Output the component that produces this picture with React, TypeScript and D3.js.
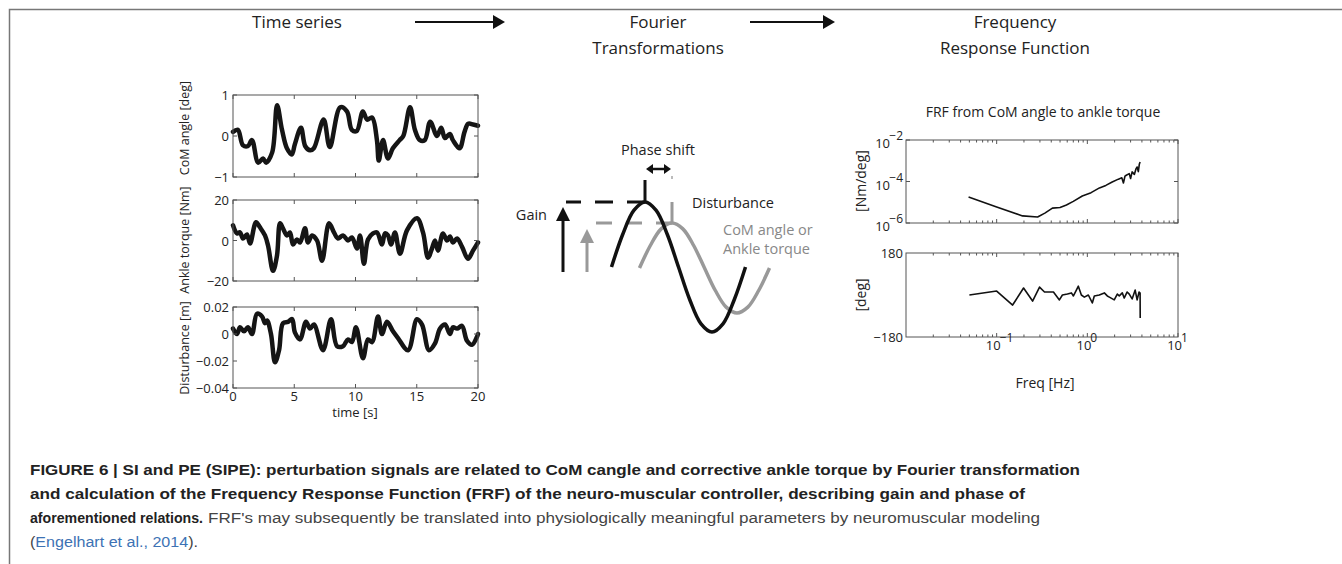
import React from 'react';
import * as d3 from 'd3';

// time series
const comTime = [0, 0.4, 0.8, 1.2, 1.55, 2.05, 2.45, 2.7, 3.2, 3.6, 4.0, 4.4, 4.8, 5.05, 5.55, 5.9, 6.3, 6.6, 7.4, 7.9, 8.75, 9.3, 9.7, 10.1, 10.6, 10.95, 11.35, 11.75, 11.9, 12.25, 12.65, 13.05, 13.6, 13.9, 14.45, 14.85, 15.25, 15.65, 16.1, 16.65, 17.0, 17.3, 17.7, 17.95, 18.5, 18.9, 19.2, 19.6, 20];
const comAngle = [0.1, 0.15, -0.22, -0.25, -0.1, -0.65, -0.55, -0.65, -0.4, 0.75, 0.15, -0.3, -0.45, -0.2, 0.2, -0.25, -0.35, -0.3, 0.4, -0.27, 0.7, 0.6, 0.15, 0.12, 0.6, 0.4, 0.45, -0.1, -0.6, -0.1, -0.55, -0.3, -0.1, 0.0, 0.7, 0.15, -0.1, -0.1, 0.35, 0.0, 0.2, -0.05, 0.05, -0.1, -0.3, 0.1, 0.3, 0.28, 0.25];

const torqueTime = [0, 0.33, 0.57, 0.82, 1.14, 1.39, 1.88, 2.2, 2.61, 2.86, 3.27, 3.59, 3.84, 4.08, 4.41, 4.65, 4.9, 5.22, 5.47, 5.88, 6.12, 6.45, 6.86, 7.27, 7.84, 8.24, 8.57, 8.98, 9.39, 9.71, 10.12, 10.37, 10.69, 11.02, 11.43, 11.76, 12.16, 12.41, 12.65, 12.9, 13.22, 13.63, 14.2, 15.02, 15.51, 15.92, 16.24, 16.49, 16.73, 17.14, 17.47, 17.71, 17.96, 18.29, 18.69, 19.18, 19.59, 20];
const ankleTorque = [7.5, 3.5, 4, 1, 3, -1.5, 9, 6.5, 2.5, -2.5, -15, -7.5, 8.5, 6, 2.5, 4, -2, 0.5, -1, 6, -1, 2.5, 0, -10, 8.5, 4, 1, 2.5, 0, 1.5, -4, 2.5, -11.5, 0.5, 3.5, 4, -2, 3.5, 2.5, -2, 4, -6.5, 5, 11, 4, -8.5, -4, 0, -5, 3.5, 0, 2, -1, 1, -3, -9, -5, -1];

const distTime = [0, 0.33, 0.57, 0.9, 1.22, 1.55, 1.96, 2.37, 2.61, 2.78, 3.1, 3.43, 3.76, 4.08, 4.49, 4.82, 5.06, 5.47, 5.96, 6.29, 6.61, 7.35, 8.0, 8.49, 8.98, 9.39, 9.71, 10.04, 10.61, 11.02, 11.35, 11.84, 12.16, 12.57, 13.06, 13.47, 14.29, 15.02, 15.43, 16.0, 16.49, 16.9, 17.31, 17.71, 17.96, 18.29, 18.69, 19.1, 19.51, 19.92, 20];
const disturbance = [0.004, 0, 0.005, 0.002, 0.005, 0, 0.015, 0.013, 0.008, 0.01, 0, -0.021, -0.012, 0.008, 0.009, 0.011, 0.001, -0.004, 0.009, 0.004, 0.007, -0.012, 0.011, -0.009, -0.009, -0.004, -0.006, 0.005, -0.018, -0.004, -0.006, 0.013, 0, 0.009, 0.002, -0.003, -0.012, 0.011, 0.007, -0.012, -0.007, 0.004, 0.007, 0, 0.005, 0.004, 0.006, -0.005, -0.008, -0.002, 0];

const timeTicks = [0, 5, 10, 15, 20];

// schematic sine waves, one period sampled every 30 deg
const wavePhase = [-90, -60, -30, 0, 30, 60, 90, 120, 150, 180, 210, 240, 270];
const waveValue = [0, 0.5, 0.87, 1, 0.87, 0.5, 0, -0.5, -0.87, -1, -0.87, -0.5, 0];

// FRF gain and phase
const gainFreq = [0.049, 0.1, 0.193, 0.283, 0.34, 0.412, 0.5, 0.588, 0.7, 0.88, 1.1, 1.36, 1.6, 1.88, 2.2, 2.4, 2.5, 2.6, 2.69, 2.9, 3.0, 3.12, 3.3, 3.45, 3.54, 3.65, 3.75, 3.82];
const gainValue = [1.8e-5, 5.9e-6, 2.2e-6, 1.95e-6, 3.0e-6, 5.2e-6, 5.6e-6, 7.4e-6, 1.1e-5, 2.0e-5, 2.9e-5, 4.9e-5, 6.5e-5, 9.5e-5, 1.3e-4, 1.5e-4, 8.5e-5, 1.8e-4, 2.0e-4, 2.4e-4, 1.4e-4, 2.9e-4, 2.2e-4, 4.2e-4, 5.0e-4, 3.0e-4, 7.0e-4, 8.7e-4];
const phaseFreq = [0.05, 0.1, 0.15, 0.198, 0.249, 0.297, 0.337, 0.423, 0.492, 0.531, 0.603, 0.667, 0.702, 0.757, 0.796, 0.859, 0.927, 1.026, 1.135, 1.194, 1.355, 1.54, 1.66, 1.75, 1.98, 2.14, 2.25, 2.43, 2.55, 2.75, 2.9, 3.12, 3.37, 3.54, 3.72, 3.82, 3.83];
const phaseValue = [0, 17, -43, 30, -26, 34, 13, 13, -21, 0, 4, 9, -4, 21, 38, 0, -9, 0, -34, -4, 0, 9, -4, -9, -21, 4, -4, 9, -13, 13, 4, -17, 21, -21, 13, 8, -99];

const gainTicks = [1e-6, 1e-4, 1e-2];
const gainTickLabels = ['\u22126', '\u22124', '\u22122'];
const phaseTicks = [-180, 180];
const freqTicks = [0.1, 1, 10];
const freqTickLabels = ['\u22121', '0', '1'];

const FIG = "'Open Sans', 'Noto Sans', sans-serif";
const CAP = "'Liberation Sans Narrow', 'Arial Narrow', 'Liberation Sans', sans-serif";
const minus = (s: string) => s.replace('-', '\u2212');

type PanelProps = {
  label: string,
  labelY: number,
  time: number[],
  values: number[],
  domain: number[],
  ticks: number[],
  top: number,
  bottom: number,
  showX?: boolean,
}

const xTime = d3.scaleLinear().domain([0, 20]).range([233, 478]);

const TimePanel: React.FC<PanelProps> = ({label, labelY, time, values, domain, ticks, top, bottom, showX}) => {
  const y = d3.scaleLinear().domain(domain).range([bottom, top]);
  const pts = time.map((t, i) => [t, values[i]] as [number, number]);
  const line = d3.line<[number, number]>().x(d => xTime(d[0])).y(d => y(d[1])).curve(d3.curveCatmullRom.alpha(0.5));
  const [x0, x1] = xTime.range();
  return (
    <g>
      <path d={line(pts) || ''} fill="none" stroke="#151515" strokeWidth={4.5} strokeLinejoin="round" strokeLinecap="round"/>
      <rect x={x0} y={top} width={x1 - x0} height={bottom - top} fill="none" stroke="#555" strokeWidth={1}/>
      {ticks.map(v => (
        <g key={v}>
          <line x1={x0} x2={x0 + 4} y1={y(v)} y2={y(v)} stroke="#555"/>
          <line x1={x1} x2={x1 - 4} y1={y(v)} y2={y(v)} stroke="#555"/>
          <text x={x0 - 4} y={y(v) + 5} textAnchor="end" fontSize={13} fill="#222">{minus(String(v))}</text>
        </g>
      ))}
      {timeTicks.map(t => (
        <g key={t}>
          <line x1={xTime(t)} x2={xTime(t)} y1={bottom} y2={bottom - 4} stroke="#555"/>
          <line x1={xTime(t)} x2={xTime(t)} y1={top} y2={top + 4} stroke="#555"/>
          {showX && <text x={xTime(t)} y={bottom + 13} textAnchor="middle" fontSize={13} fill="#222">{t}</text>}
        </g>
      ))}
      <text transform={`translate(189, ${labelY}) rotate(-90)`} textAnchor="middle" fontSize={12.5} fill="#222">{label}</text>
    </g>
  );
}

const HeadArrow: React.FC<{x1: number, x2: number, y: number}> = ({x1, x2, y}) => (
  <g>
    <line x1={x1} x2={x2 - 10} y1={y} y2={y} stroke="#111" strokeWidth={2}/>
    <polygon points={`${x2},${y} ${x2 - 12},${y - 7} ${x2 - 12},${y + 7}`} fill="#111"/>
  </g>
);

const App: React.FC = () => {
  // schematic waves
  const blackX = d3.scaleLinear().domain([0, 360]).range([645, 779]);
  const blackY = d3.scaleLinear().domain([-1, 1]).range([332, 202]);
  const grayX = d3.scaleLinear().domain([0, 360]).range([672, 802]);
  const grayY = d3.scaleLinear().domain([-1, 1]).range([313, 223]);
  const wave = wavePhase.map((p, i) => [p, waveValue[i]] as [number, number]);
  const blackLine = d3.line<[number, number]>().x(d => blackX(d[0])).y(d => blackY(d[1])).curve(d3.curveCatmullRom);
  const grayLine = d3.line<[number, number]>().x(d => grayX(d[0])).y(d => grayY(d[1])).curve(d3.curveCatmullRom);
  const peakBlack = {x: blackX(0), y: blackY(1)};
  const peakGray = {x: grayX(0), y: grayY(1)};

  // FRF axes
  const xF = d3.scaleLog().domain([0.01, 10]).range([906, 1178]);
  const yG = d3.scaleLog().domain([1e-6, 1e-2]).range([223, 140]);
  const yP = d3.scaleLinear().domain([-180, 180]).range([337, 253]);
  const gainLine = d3.line<number>().x((_, i) => xF(gainFreq[i])).y(d => yG(d));
  const phaseLine = d3.line<number>().x((_, i) => xF(phaseFreq[i])).y(d => yP(d));
  const minorTicks = xF.ticks().filter(v => !freqTicks.includes(v) && v > 0.01);
  const [fx0, fx1] = xF.range();

  const frfBox = (top: number, bottom: number) => (
    <g>
      <rect x={fx0} y={top} width={fx1 - fx0} height={bottom - top} fill="none" stroke="#555"/>
      {minorTicks.map(v => (
        <g key={v}>
          <line x1={xF(v)} x2={xF(v)} y1={top} y2={top + 2.5} stroke="#555"/>
          <line x1={xF(v)} x2={xF(v)} y1={bottom} y2={bottom - 2.5} stroke="#555"/>
        </g>
      ))}
      {freqTicks.map(v => (
        <g key={v}>
          <line x1={xF(v)} x2={xF(v)} y1={top} y2={top + 4} stroke="#555"/>
          <line x1={xF(v)} x2={xF(v)} y1={bottom} y2={bottom - 4} stroke="#555"/>
        </g>
      ))}
    </g>
  );

  return (
    <svg width={1342} height={564} style={{position: 'absolute', left: 0, top: 0, background: '#fff'}} fontFamily={FIG}>
      <rect x={9.5} y={9.5} width={1340} height={560} fill="none" stroke="#777" strokeWidth={1.5}/>

      {/* headers */}
      <text x={297} y={28} textAnchor="middle" fontSize={17} fill="#222">Time series</text>
      <HeadArrow x1={415} x2={505} y={22}/>
      <text x={658} y={28} textAnchor="middle" fontSize={17} fill="#222">Fourier</text>
      <text x={658} y={54} textAnchor="middle" fontSize={17} fill="#222">Transformations</text>
      <HeadArrow x1={750} x2={835} y={22}/>
      <text x={1015} y={28} textAnchor="middle" fontSize={17} fill="#222">Frequency</text>
      <text x={1015} y={54} textAnchor="middle" fontSize={17} fill="#222">Response Function</text>

      {/* time series */}
      <TimePanel label="CoM angle [deg]" labelY={128} time={comTime} values={comAngle} domain={[-1, 1]} ticks={[-1, 0, 1]} top={95} bottom={177}/>
      <TimePanel label="Ankle torque [Nm]" labelY={240} time={torqueTime} values={ankleTorque} domain={[-20, 20]} ticks={[-20, 0, 20]} top={200} bottom={281}/>
      <TimePanel label="Disturbance [m]" labelY={348} time={distTime} values={disturbance} domain={[-0.04, 0.02]} ticks={[-0.04, -0.02, 0, 0.02]} top={307} bottom={388} showX/>
      <text x={355} y={417} textAnchor="middle" fontSize={13} fill="#222">time [s]</text>

      {/* schematic */}
      <text x={658} y={155} textAnchor="middle" fontSize={14.5} fill="#222">Phase shift</text>
      <line x1={651} x2={666} y1={169} y2={169} stroke="#111" strokeWidth={2.5}/>
      <polygon points={`${peakBlack.x + 1},169 ${peakBlack.x + 8},164 ${peakBlack.x + 8},174`} fill="#111"/>
      <polygon points={`${peakGray.x - 1},169 ${peakGray.x - 8},164 ${peakGray.x - 8},174`} fill="#111"/>
      <line x1={peakBlack.x} x2={peakBlack.x} y1={180} y2={peakBlack.y} stroke="#111" strokeWidth={3}/>
      <line x1={peakGray.x} x2={peakGray.x} y1={peakBlack.y} y2={peakGray.y} stroke="#999" strokeWidth={3}/>
      <rect x={peakGray.x - 1} y={176} width={2} height={3} fill="#bbb"/>
      <line x1={peakBlack.x} x2={566} y1={peakBlack.y} y2={peakBlack.y} stroke="#111" strokeWidth={3} strokeDasharray="18 14"/>
      <line x1={peakGray.x} x2={587} y1={peakGray.y} y2={peakGray.y} stroke="#999" strokeWidth={3} strokeDasharray="16 14"/>
      <line x1={563} x2={563} y1={272} y2={218} stroke="#111" strokeWidth={3}/>
      <polygon points={`563,${peakBlack.y + 5} 556,${peakBlack.y + 19} 570,${peakBlack.y + 19}`} fill="#111"/>
      <line x1={587} x2={587} y1={272} y2={240} stroke="#999" strokeWidth={3}/>
      <polygon points={`587,${peakGray.y + 6} 580,${peakGray.y + 20} 594,${peakGray.y + 20}`} fill="#999"/>
      <text x={547} y={220} textAnchor="end" fontSize={14.5} fill="#222">Gain</text>
      <path d={grayLine(wave) || ''} fill="none" stroke="#999" strokeWidth={3.5}/>
      <path d={blackLine(wave) || ''} fill="none" stroke="#111" strokeWidth={3.5}/>
      <text x={692} y={208} fontSize={14.5} fill="#222">Disturbance</text>
      <text x={723} y={235} fontSize={14.5} fill="#888">CoM angle or</text>
      <text x={723} y={254} fontSize={14.5} fill="#888">Ankle torque</text>

      {/* FRF */}
      <text x={1043} y={117} textAnchor="middle" fontSize={14} fill="#222">FRF from CoM angle to ankle torque</text>
      {frfBox(140, 223)}
      {gainTicks.map((v, i) => (
        <g key={v}>
          <line x1={fx0} x2={fx0 + 4} y1={yG(v)} y2={yG(v)} stroke="#555"/>
          <line x1={fx1} x2={fx1 - 4} y1={yG(v)} y2={yG(v)} stroke="#555"/>
          <text x={890} y={yG(v) + 8} textAnchor="end" fontSize={13} fill="#222">10</text>
          <text x={903} y={yG(v)} textAnchor="end" fontSize={12} fill="#222">{gainTickLabels[i]}</text>
        </g>
      ))}
      <path d={gainLine(gainValue) || ''} fill="none" stroke="#111" strokeWidth={1.6} strokeLinejoin="round"/>
      <text transform={`translate(866, 181) rotate(-90)`} textAnchor="middle" fontSize={14} fill="#222">[Nm/deg]</text>

      {frfBox(253, 337)}
      {phaseTicks.map(v => (
        <text key={v} x={903} y={yP(v) + 5} textAnchor="end" fontSize={13} fill="#222">{minus(String(v))}</text>
      ))}
      <path d={phaseLine(phaseValue) || ''} fill="none" stroke="#111" strokeWidth={1.6} strokeLinejoin="round"/>
      <text transform={`translate(866, 295) rotate(-90)`} textAnchor="middle" fontSize={14} fill="#222">[deg]</text>
      {freqTicks.map((v, i) => (
        <g key={v}>
          <text x={xF(v) + 4} y={350} textAnchor="end" fontSize={13} fill="#222">10</text>
          <text x={xF(v) + 3} y={342} fontSize={12} fill="#222">{freqTickLabels[i]}</text>
        </g>
      ))}
      <text x={1045} y={388} textAnchor="middle" fontSize={14} fill="#222">Freq [Hz]</text>

      {/* caption */}
      <g fontFamily={CAP} fontSize={15.5}>
        <text x={30} y={475} fontWeight="bold" fill="#222" textLength={1050} lengthAdjust="spacingAndGlyphs">FIGURE 6 | SI and PE (SIPE): perturbation signals are related to CoM cangle and corrective ankle torque by Fourier transformation</text>
        <text x={30} y={499} fontWeight="bold" fill="#222" textLength={995} lengthAdjust="spacingAndGlyphs">and calculation of the Frequency Response Function (FRF) of the neuro-muscular controller, describing gain and phase of</text>
        <text x={30} y={523} fontWeight="bold" fill="#222" textLength={173} lengthAdjust="spacingAndGlyphs">aforementioned relations.</text>
        <text x={208} y={523} fill="#444" textLength={832} lengthAdjust="spacingAndGlyphs">FRF's may subsequently be translated into physiologically meaningful parameters by neuromuscular modeling</text>
        <text x={30} y={547} fill="#444" textLength={168} lengthAdjust="spacingAndGlyphs">(<tspan fill="#3d72b4">Engelhart et al., 2014</tspan>).</text>
      </g>
    </svg>
  );
}

export default App;
